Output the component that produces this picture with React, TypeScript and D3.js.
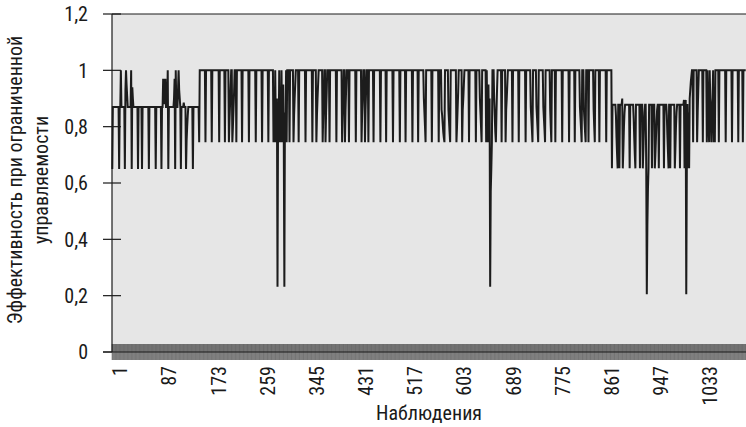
import React from "react";
import * as d3 from "d3";

// ---- data ----
const yTicks = [0, 0.2, 0.4, 0.6, 0.8, 1.0, 1.2];
const xTickLabels = [1, 87, 173, 259, 345, 431, 517, 603, 689, 775, 861, 947, 1033];
const observationCount = 1109;
const xTitle = "Наблюдения";
const yTitleLines = ["Эффективность при ограниченной", "управляемости"];

// flat levels: observation number where a level begins and its value
const levelStart = [1, 153, 875, 1015];
const levelValue = [0.87, 1.0, 0.878, 1.0];

// observations that depart from the level: [first observation, consecutive values]
const deviations: [number, number[]][] = [
  // level 0.87
  [1, [0.65]],
  [13, [0.65]],
  [16, [1.0]],
  [23, [0.65, 0.93, 1.0, 0.95, 0.91]],
  [34, [1.0, 0.65, 0.94, 0.9]],
  [46, [0.65]],
  [53, [0.65]],
  [65, [0.65]],
  [77, [0.65]],
  [87, [0.65]],
  [90, [0.97, 0.88, 0.97, 0.88, 0.97]],
  [98, [1.0, 0.65]],
  [109, [0.9, 0.97, 0.65, 1.0]],
  [116, [0.93, 1.0, 0.93, 0.9]],
  [121, [0.65]],
  [126, [0.885]],
  [130, [0.65, 0.75, 0.8, 0.84]],
  [142, [0.65]],
  // level 1.0
  [153, [0.745]],
  [164, [0.745]],
  [175, [0.745]],
  [188, [0.745]],
  [198, [0.745]],
  [205, [0.745, 0.82, 0.88, 0.94]],
  [211, [0.745, 0.8, 0.86, 0.92]],
  [218, [0.745]],
  [228, [0.745]],
  [240, [0.745]],
  [252, [0.745]],
  [263, [0.745]],
  [274, [0.745]],
  [283, [0.745, 0.9, 0.745, 1.0, 0.8, 0.745, 0.9, 0.232, 0.85, 0.745, 1.0, 0.745, 0.88, 0.745, 1.0, 0.8, 0.745, 0.95, 0.745, 0.232, 0.85, 0.745, 1.0, 0.745]],
  [311, [0.745]],
  [318, [0.745, 0.84, 0.9, 0.95]],
  [327, [0.745]],
  [339, [0.745]],
  [351, [0.745]],
  [358, [0.745, 0.84, 0.9, 0.95]],
  [369, [0.745, 0.84, 0.9]],
  [374, [0.745, 0.85, 0.92]],
  [381, [0.745]],
  [393, [0.745]],
  [403, [0.745, 0.84, 0.9]],
  [408, [0.745, 0.86, 0.93]],
  [415, [0.745]],
  [427, [0.745]],
  [437, [0.745, 0.84, 0.9]],
  [443, [0.745, 0.86, 0.93]],
  [449, [0.745]],
  [458, [0.745]],
  [470, [0.745]],
  [480, [0.745]],
  [492, [0.745]],
  [504, [0.745]],
  [514, [0.745]],
  [526, [0.745]],
  [536, [0.745]],
  [546, [0.9, 0.85, 0.8, 0.745]],
  [560, [0.745]],
  [572, [0.745]],
  [577, [0.86, 0.84, 0.81, 0.78, 0.76, 0.745]],
  [589, [0.86, 0.82, 0.78, 0.745]],
  [603, [0.745, 0.8, 0.86, 0.92]],
  [613, [0.745, 0.86, 0.9, 0.95]],
  [625, [0.745]],
  [637, [0.745]],
  [644, [0.9, 0.85, 0.8, 0.745]],
  [655, [0.745, 1.0, 0.8, 0.745, 0.95, 0.745, 0.9, 0.232, 0.57, 0.65, 0.745]],
  [669, [0.9, 0.84, 0.78, 0.745, 0.85, 0.93]],
  [682, [0.745]],
  [689, [0.745, 0.86, 0.9, 0.95]],
  [701, [0.745]],
  [712, [0.745]],
  [724, [0.745]],
  [733, [0.87, 0.83, 0.79, 0.745]],
  [743, [0.87, 0.83, 0.79, 0.745]],
  [755, [0.87, 0.83, 0.79, 0.745]],
  [767, [0.86, 0.8, 0.745]],
  [776, [0.745]],
  [788, [0.745]],
  [800, [0.745]],
  [810, [0.745]],
  [819, [0.87, 0.83, 0.79, 0.745]],
  [826, [0.86, 0.82, 0.78, 0.745]],
  [834, [0.745]],
  [843, [0.86, 0.8, 0.745]],
  [853, [0.745]],
  [865, [0.745]],
  // level 0.878
  [875, [0.652]],
  [882, [0.84, 0.76, 0.7, 0.652]],
  [888, [0.652]],
  [893, [0.9, 0.652, 0.72, 0.8, 0.85]],
  [906, [0.652]],
  [913, [0.83, 0.76, 0.7, 0.652]],
  [924, [0.652]],
  [929, [0.652, 0.72, 0.8, 0.85]],
  [935, [0.652, 0.205, 0.45, 0.58, 0.652]],
  [945, [0.652]],
  [950, [0.652, 0.7, 0.76, 0.82, 0.86]],
  [957, [0.652]],
  [966, [0.652]],
  [971, [0.84, 0.77, 0.71, 0.652]],
  [977, [0.652]],
  [985, [0.652, 0.72, 0.8, 0.85]],
  [994, [0.652]],
  [1001, [0.895, 0.652, 0.88, 0.895, 0.205, 0.652, 0.88, 0.652, 0.85, 0.652]],
  [1011, [0.9, 0.93, 0.96, 0.98]],
  // level 1.0
  [1017, [0.745]],
  [1024, [0.745, 0.85, 0.93]],
  [1034, [0.745]],
  [1041, [0.745]],
  [1043, [0.86, 0.8, 0.745]],
  [1047, [0.9, 0.85, 0.745, 0.85, 0.9]],
  [1053, [0.745, 0.9, 0.745]],
  [1062, [0.745]],
  [1074, [0.745]],
  [1085, [0.745]],
  [1096, [0.745]],
  [1104, [0.745]],
];

function buildSeries(): number[] {
  const vals: number[] = [];
  for (let i = 1; i <= observationCount; i++) {
    let k = 0;
    for (let j = 0; j < levelStart.length; j++) if (levelStart[j] <= i) k = j;
    vals.push(levelValue[k]);
  }
  for (const [s, arr] of deviations) {
    arr.forEach((v, j) => {
      const idx = s - 1 + j;
      if (idx >= 0 && idx < vals.length) vals[idx] = v;
    });
  }
  return vals;
}

const W = 746;
const H = 427;
const left = 112;
const right = 746;
const top = 14;
const bottom = 352;
const FONT = "'Liberation Sans Narrow', 'Roboto Condensed', 'DejaVu Sans Condensed', Roboto, sans-serif";
const fmt = (v: number) => (v === 0 ? "0" : v === 1 ? "1" : v.toFixed(1).replace(".", ","));

export default function App() {
  const series = buildSeries();
  const x = d3.scaleLinear().domain([0.5, observationCount + 0.5]).range([left, right]);
  const y = d3.scaleLinear().domain([0, 1.2]).range([bottom, top]);
  const line = d3
    .line<number>()
    .x((_, i) => x(i + 1))
    .y((d) => y(d));

  let tickPath = "";
  for (let i = 0; i <= observationCount; i++) {
    const xx = x(i + 0.5);
    tickPath += `M${xx.toFixed(2)},344V360`;
  }

  return (
    <svg
      width={W}
      height={H}
      style={{ position: "absolute", left: 0, top: 0, background: "#fff" }}
      fontFamily={FONT}
    >
      <rect x={left} y={top} width={right - left + 10} height={bottom - top} fill="#e6e6e6" />
      <line x1={left} x2={W} y1={top} y2={top} stroke="#1a1a1a" strokeWidth={1} />
      {/* category ticks */}
      <path d={tickPath} stroke="#000" strokeWidth={0.36} fill="none" />
      {/* data line */}
      <path
        d={line(series) || ""}
        fill="none"
        stroke="#1c1c1c"
        strokeWidth={2}
        strokeLinejoin="miter"
      />
      {/* axes */}
      <line x1={left} x2={left} y1={top} y2={bottom} stroke="#1a1a1a" strokeWidth={1.2} />
      <line x1={103} x2={W} y1={bottom} y2={bottom} stroke="#1a1a1a" strokeWidth={1.2} />
      {yTicks.map((t) => (
        <g key={t}>
          <line x1={103} x2={t === 0 ? left : 121} y1={y(t)} y2={y(t)} stroke="#1a1a1a" strokeWidth={1.2} />
          <text x={88} y={y(t)} dy="0.36em" textAnchor="end" fontSize={20} fill="#1a1a1a">
            {fmt(t)}
          </text>
        </g>
      ))}
      {xTickLabels.map((c) => (
        <text
          key={c}
          transform={`translate(${x(c) + 7.7},366) rotate(-90)`}
          dy="0.36em"
          textAnchor="end"
          fontSize={20}
          fill="#1a1a1a"
        >
          {c}
        </text>
      ))}
      <text x={429} y={420} textAnchor="middle" fontSize={20} fill="#1a1a1a">
        {xTitle}
      </text>
      {yTitleLines.map((s, i) => (
        <text
          key={i}
          transform={`translate(${22 + i * 26},180) rotate(-90)`}
          textAnchor="middle"
          fontSize={20}
          fill="#1a1a1a"
        >
          {s}
        </text>
      ))}
    </svg>
  );
}
